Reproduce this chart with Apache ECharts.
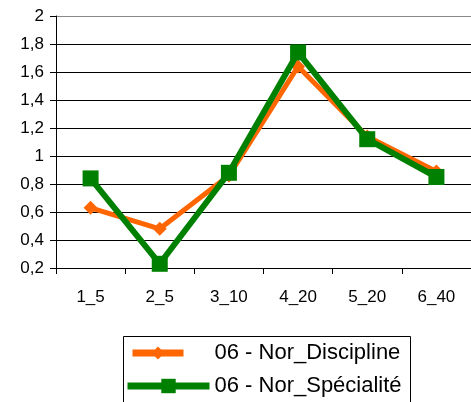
<!DOCTYPE html>
<html>
<head>
<meta charset="utf-8">
<script src="https://cdn.jsdelivr.net/npm/echarts@6/dist/echarts.min.js"></script>
<style>
html,body{margin:0;padding:0;background:#fff;}
#c{width:471px;height:402px;}
</style>
</head>
<body>
<div id="c"></div>
<script>
const categories = ['1_5', '2_5', '3_10', '4_20', '5_20', '6_40'];
const seriesNames = ['06 - Nor_Discipline', '06 - Nor_Spécialité'];
const disciplineValues = [0.63, 0.48, 0.86, 1.64, 1.14, 0.89];
const specialiteValues = [0.84, 0.23, 0.88, 1.74, 1.12, 0.85];
const yMin = 0.2, yMax = 2, yStep = 0.2;

const font = 'Liberation Sans, Arial, sans-serif';
const chart = echarts.init(document.getElementById('c'), null, {renderer: 'canvas'});
const gridColors = [];
for (let i = 0; i < 9; i++) gridColors.push('#000');
gridColors.push('#888');

chart.setOption({
  animation: false,
  backgroundColor: '#fff',
  grid: {left: 56, top: 16, width: 418, bottom: 134, containLabel: false},
  xAxis: {
    type: 'category',
    data: categories,
    boundaryGap: true,
    axisLine: {lineStyle: {color: '#000', width: 1}},
    axisTick: {show: true, length: 6, lineStyle: {color: '#000'}},
    axisLabel: {color: '#000', fontFamily: font, fontSize: 17, margin: 21},
    splitLine: {show: false}
  },
  yAxis: {
    type: 'value',
    min: yMin, max: yMax, interval: yStep,
    axisLine: {show: true, lineStyle: {color: '#000', width: 1}},
    axisTick: {show: true, length: 6, lineStyle: {color: '#000'}},
    axisLabel: {
      color: '#000', fontFamily: font, fontSize: 17, margin: 12,
      formatter: v => String(parseFloat(v.toFixed(1))).replace('.', ',')
    },
    splitLine: {show: true, lineStyle: {color: gridColors, width: 1}}
  },
  graphic: [{
    type: 'rect', left: 121, top: 334,
    shape: {width: 287, height: 80},
    style: {fill: 'none', stroke: '#000', lineWidth: 1},
    z: -1
  }],
  legend: [{
    data: [seriesNames[0]],
    left: 129, top: 342, padding: 0,
    itemWidth: 51, itemHeight: 16,
    lineStyle: {width: 7},
    textStyle: {color: '#000', fontFamily: font, fontSize: 22, padding: [0, 0, 0, 26]}
  }, {
    data: [seriesNames[1]],
    left: 124, top: 375, padding: 0,
    itemWidth: 82, itemHeight: 18,
    lineStyle: {width: 7},
    textStyle: {color: '#000', fontFamily: font, fontSize: 22}
  }],
  series: [{
    name: seriesNames[0],
    type: 'line',
    data: disciplineValues,
    symbol: 'diamond', symbolSize: 14,
    lineStyle: {color: '#FF6600', width: 5},
    itemStyle: {color: '#FF6600'},
    z: 2
  }, {
    name: seriesNames[1],
    type: 'line',
    data: specialiteValues,
    symbol: 'rect', symbolSize: 16,
    lineStyle: {color: '#008000', width: 6},
    itemStyle: {color: '#008000'},
    z: 3
  }]
});
</script>
</body>
</html>
